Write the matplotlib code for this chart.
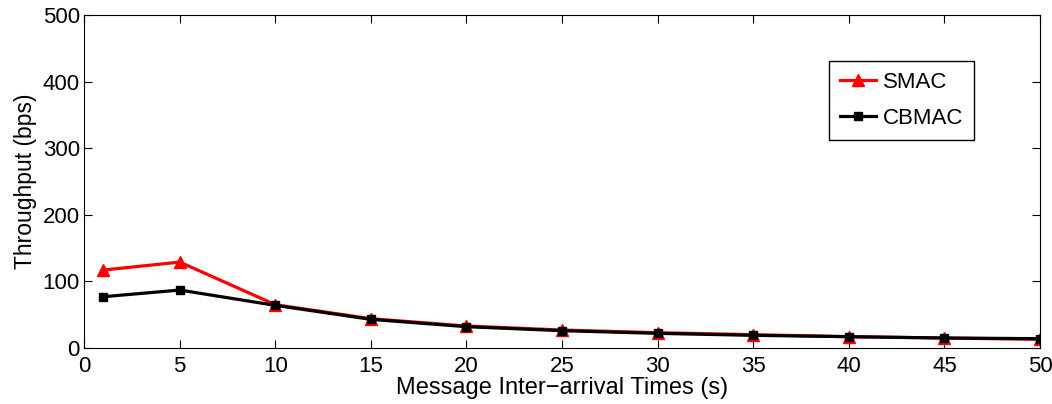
import numpy as np
import matplotlib.pyplot as plt

plt.rcParams['font.family'] = ['Liberation Sans', 'DejaVu Sans']

# data
x = [1, 5, 10, 15, 20, 25, 30, 35, 40, 45, 50]
smac = [117, 129, 65, 44, 33, 27, 23, 20, 17, 15, 13]
cbmac = [77, 87, 64, 43, 32, 26, 22, 19, 17, 15, 14]

fig = plt.figure(figsize=(10.52, 4.04), dpi=100)
ax = fig.add_axes([0.080, 0.1386, 0.9086, 0.8244])

ax.plot(x, smac, color='red', lw=2.3, marker='^', ms=8, label='SMAC')
ax.plot(x, cbmac, color='black', lw=2.3, marker='s', ms=6, label='CBMAC')

ax.set_xlim(0, 50)
ax.set_ylim(0, 500)
ax.set_xticks(np.arange(0, 51, 5))
ax.set_yticks(np.arange(0, 501, 100))
ax.tick_params(direction='in', labelsize=16, length=6, top=True, right=True)
ax.tick_params(axis='x', pad=6)
ax.tick_params(axis='y', pad=3)
ax.set_xlabel('Message Inter\u2212arrival Times (s)', fontsize=17, labelpad=0)
ax.set_ylabel('Throughput (bps)', fontsize=16.5, labelpad=4)

leg = ax.legend(loc='upper right', bbox_to_anchor=(0.931, 0.863), fontsize=16,
                fancybox=False, edgecolor='black', framealpha=1,
                handlelength=1.6, handletextpad=0.3, borderpad=0.5,
                labelspacing=0.7, borderaxespad=0)
leg.get_frame().set_linewidth(1.0)

fig.savefig('out.png', dpi=100)
